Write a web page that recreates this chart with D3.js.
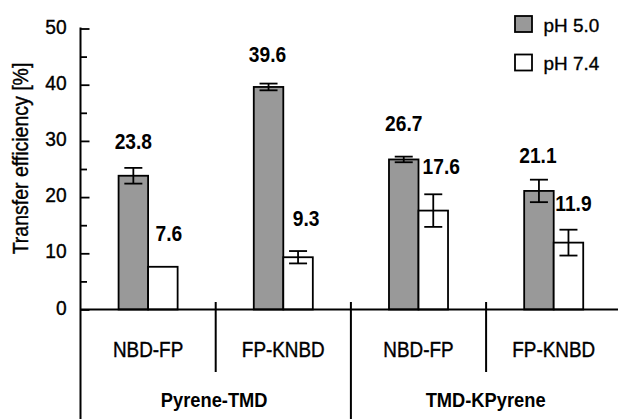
<!DOCTYPE html>
<html><head><meta charset="utf-8">
<script src="https://cdn.jsdelivr.net/npm/d3@7"></script>
<style>
html,body{margin:0;padding:0;background:#fff;}
svg text{font-family:"Liberation Sans",Arial,Helvetica,sans-serif;fill:#000;}
svg text.reg{stroke:#000;stroke-width:0.35;}
</style></head>
<body><svg id="c" width="618" height="419"></svg>
<script>
// ---- data ----
const groups = ["Pyrene-TMD", "TMD-KPyrene"];
const subCategories = ["NBD-FP", "FP-KNBD", "NBD-FP", "FP-KNBD"];
const subGroupOf = ["Pyrene-TMD", "Pyrene-TMD", "TMD-KPyrene", "TMD-KPyrene"];
const seriesNames = ["pH 5.0", "pH 7.4"];
const ph50 = [23.8, 39.6, 26.7, 21.1];
const ph74 = [7.6, 9.3, 17.6, 11.9];
const ph50Err = [1.4, 0.6, 0.5, 2.0];
const ph74Err = [0, 1.1, 2.9, 2.3];
const yTicks = [0, 10, 20, 30, 40, 50];
const yMinorTicks = [5, 15, 25, 35, 45];

// label nudges (layout only): [dx, dy] relative to bar centre / top of error bar
const labelNudge50 = [[0, -19], [-1, -22], [0, -26], [-1, -17]];
const labelNudge74 = [[6, -26], [8, -25], [8, -20], [5, -19]];

const svg = d3.select("#c");
const STRETCH = 1.14;
const x0 = 80.5, x1 = 621.3;
const yTop = 28.5, yBase = 309.5;

const y = d3.scaleLinear().domain([0, 50]).range([yBase, yTop]);
const idx = d3.range(subCategories.length);
const x = d3.scaleBand().domain(idx).range([x0, x1]).padding(0);
const xs = d3.scaleBand().domain(seriesNames).range([0, x.bandwidth()]).paddingInner(0).paddingOuter(1.29);

const series = [
  {name: "pH 5.0", values: ph50, err: ph50Err, fill: "#999999", nudge: labelNudge50},
  {name: "pH 7.4", values: ph74, err: ph74Err, fill: "#ffffff", nudge: labelNudge74}
];

function sText(sel, tx, ty, rot, st) {
  sel.attr("x", 0).attr("y", 0)
     .attr("transform", `translate(${tx},${ty})` + (rot ? ` rotate(${rot})` : "") + ` scale(1,${st || STRETCH})`);
  return sel;
}

// bars
series.forEach(s => {
  const g = svg.append("g");
  idx.forEach(i => {
    const bx = x(i) + xs(s.name);
    const v = s.values[i];
    g.append("rect")
      .attr("x", bx).attr("y", y(v))
      .attr("width", xs.bandwidth()).attr("height", y(0) - y(v))
      .attr("fill", s.fill).attr("stroke", "#000").attr("stroke-width", 1.8);
  });
});

// error bars
series.forEach(s => {
  idx.forEach(i => {
    const e = s.err[i];
    if (!e) return;
    const cx = x(i) + xs(s.name) + xs.bandwidth() / 2;
    const v = s.values[i];
    const cw = 9;
    const g = svg.append("g").attr("stroke", "#000").attr("stroke-width", 1.8);
    g.append("line").attr("x1", cx).attr("x2", cx).attr("y1", y(v + e)).attr("y2", y(v - e));
    g.append("line").attr("x1", cx - cw).attr("x2", cx + cw).attr("y1", y(v + e)).attr("y2", y(v + e));
    g.append("line").attr("x1", cx - cw).attr("x2", cx + cw).attr("y1", y(v - e)).attr("y2", y(v - e));
  });
});

// value labels
series.forEach(s => {
  idx.forEach(i => {
    const cx = x(i) + xs(s.name) + xs.bandwidth() / 2;
    const v = s.values[i];
    const top = y(v + s.err[i]);
    const [dx, dy] = s.nudge[i];
    svg.append("text").text(v.toFixed(1))
      .attr("text-anchor", "middle").attr("font-weight", "bold").attr("font-size", 19.2)
      .call(sText, cx + dx, top + dy);
  });
});

// y axis
const yAxis = d3.axisRight(y).tickValues(yTicks).tickSize(9).tickFormat("");
const ga = svg.append("g").attr("transform", `translate(${x0},0)`).call(yAxis);
ga.select(".domain").remove();
ga.selectAll(".tick line").attr("stroke", "#000").attr("stroke-width", 1.8);
const yMinor = d3.axisRight(y).tickValues(yMinorTicks).tickSize(6.5).tickFormat("");
const gm = svg.append("g").attr("transform", `translate(${x0},0)`).call(yMinor);
gm.select(".domain").remove();
gm.selectAll(".tick line").attr("stroke", "#000").attr("stroke-width", 1.8);
// tick labels
yTicks.forEach(t => {
  svg.append("text").attr("class", "reg").text(t)
    .attr("text-anchor", "end").attr("font-size", 19.2)
    .call(sText, 66.7, y(t) + 5, 0, 1.08);
});
// axis line
svg.append("line").attr("x1", x0).attr("x2", x0).attr("y1", yTop - 0.9).attr("y2", 419)
  .attr("stroke", "#000").attr("stroke-width", 2);
// baseline
svg.append("line").attr("x1", x0).attr("x2", 618).attr("y1", yBase).attr("y2", yBase)
  .attr("stroke", "#000").attr("stroke-width", 2);

// separators
idx.slice(1).forEach(i => {
  const sx = x(i);
  const groupBoundary = subGroupOf[i] !== subGroupOf[i - 1];
  svg.append("line").attr("x1", sx).attr("x2", sx)
    .attr("y1", yBase - 7.5).attr("y2", groupBoundary ? 419 : 372)
    .attr("stroke", "#000").attr("stroke-width", 2);
});

// category labels
idx.forEach(i => {
  svg.append("text").attr("class", "reg").text(subCategories[i])
    .attr("text-anchor", "middle").attr("font-size", 18.9)
    .call(sText, x(i) + x.bandwidth() / 2, 357.3);
});
// group labels
groups.forEach(gname => {
  const members = idx.filter(i => subGroupOf[i] === gname);
  const gx0 = x(members[0]);
  const gx1 = x(members[members.length - 1]) + x.bandwidth();
  const cx = gname === groups[0] ? (gx0 + gx1) / 2 - 1.5 : (gx0 + gx1) / 2 - 0.5;
  svg.append("text").text(gname)
    .attr("text-anchor", "middle").attr("font-weight", "bold").attr("font-size", 18.3)
    .call(sText, cx, 406.7);
});

// y title
svg.append("text").attr("class", "reg").text("Transfer efficiency [%]")
  .attr("text-anchor", "middle").attr("font-size", 19.5)
  .call(sText, 28.3, 158.5, -90);

// legend
series.forEach((s, k) => {
  const ly = 16 + k * 38.5;
  svg.append("rect").attr("x", 515).attr("y", ly).attr("width", 17).attr("height", 16)
    .attr("fill", s.fill).attr("stroke", "#000").attr("stroke-width", 1.8);
  svg.append("text").attr("class", "reg").text(s.name).attr("x", 543.5).attr("y", ly + 15.7)
    .attr("font-size", 18.9);
});
</script>
</body></html>
